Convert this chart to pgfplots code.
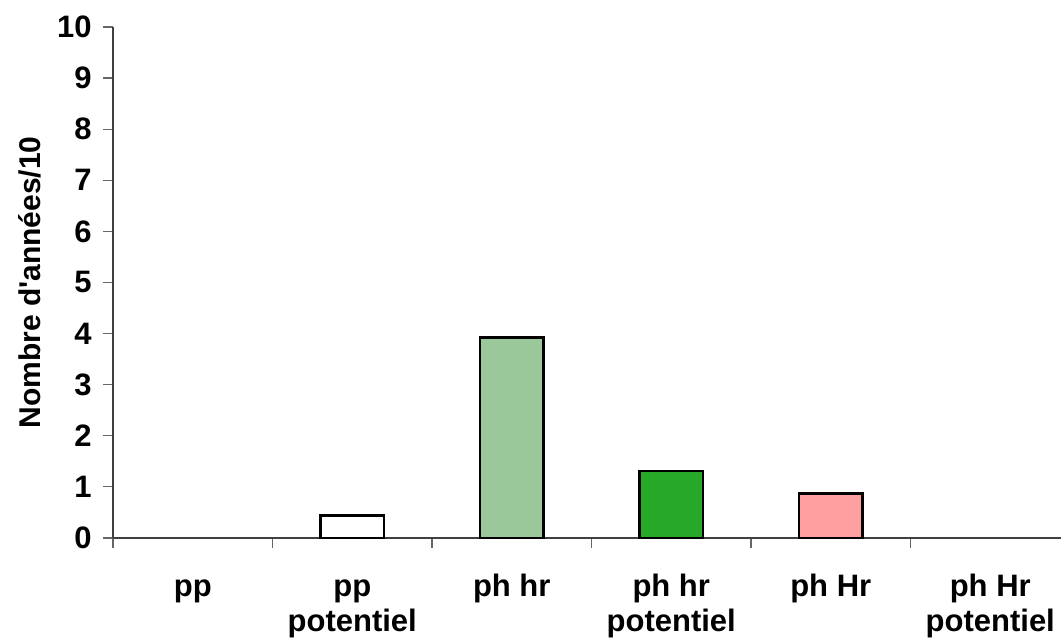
\documentclass[border=0pt]{standalone}
\usepackage{pgfplots}
\pgfplotsset{compat=1.18}
\usepackage{fontspec}
\setmainfont{Liberation Sans}[Ligatures=TeXOff]
\definecolor{barA}{RGB}{155,200,155}
\definecolor{barB}{RGB}{40,168,40}
\definecolor{barC}{RGB}{255,160,160}
\begin{document}
\begin{tikzpicture}
\begin{axis}[
  scale only axis,
  width=474pt, height=255.5pt,
  xmin=0, xmax=5.9436, ymin=0, ymax=10,
  axis x line=bottom, axis y line=left,
  axis line style={-, black!75, line width=0.6pt},
  ytick={0,1,...,10},
  xtick={0,1,...,5},
  xticklabels={},
  tick align=outside,
  major tick length=5pt,
  tick style={black!60, line width=0.6pt},
  /pgf/number format/assume math mode=true,
  ticklabel style={font=\fontsize{15.5}{17.5}\selectfont\bfseries},
  yticklabel style={anchor=east, inner sep=0pt, xshift=-5.5pt},
  extra x ticks={0.5,1.5,...,5.5},
  extra x tick labels={{\strut pp}, {\strut pp\\potentiel}, {\strut ph hr}, {\strut ph hr\\potentiel}, {\strut ph Hr}, {\strut ph Hr\\potentiel}},
  extra x tick style={major tick length=0pt, xticklabel style={anchor=north, align=center, inner sep=0pt, yshift=-16.75pt}},
  ylabel={Nombre d'années/10},
  ylabel style={at={(axis description cs:-0.0876,0.5)}, anchor=center, font=\fontsize{15}{17.5}\selectfont\bfseries},
  ybar, bar width=0.4, bar shift=0pt,
  clip=false,
]
\addplot[draw=none, fill=none] coordinates {(0.5,0)};
\addplot[draw=black, line width=1.2pt, fill=white] coordinates {(1.5,0.44)};
\addplot[draw=black, line width=1.2pt, fill=barA] coordinates {(2.5,3.92)};
\addplot[draw=black, line width=1.2pt, fill=barB] coordinates {(3.5,1.31)};
\addplot[draw=black, line width=1.2pt, fill=barC] coordinates {(4.5,0.87)};
\addplot[draw=none, fill=none] coordinates {(5.5,0)};
\coordinate (BL) at (rel axis cs:-0.1192,-0.1977);
\coordinate (TR) at (rel axis cs:1,1.0528);
\end{axis}
\pgfresetboundingbox
\path[use as bounding box] (BL) rectangle (TR);
\end{tikzpicture}
\end{document}
